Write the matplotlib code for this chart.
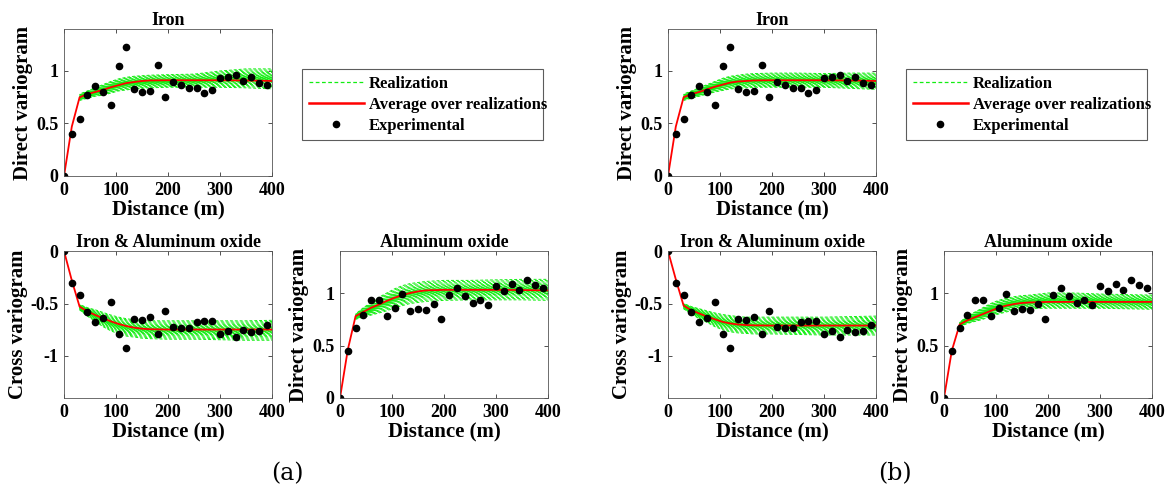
import numpy as np
import matplotlib
matplotlib.use("Agg")
import matplotlib.pyplot as plt
from matplotlib.lines import Line2D

plt.rcParams["font.family"] = ["Liberation Serif", "DejaVu Serif"]
plt.rcParams["font.weight"] = "bold"

W, H = 1170, 492

# experimental lags (m), same in (a) and (b)
exp_d = [0, 15, 30, 45, 60, 75, 90, 105, 120, 135, 150, 165, 180, 195, 210,
         225, 240, 255, 270, 285, 300, 315, 330, 345, 360, 375, 390]
exp_iron = [0, 0.40, 0.54, 0.77, 0.86, 0.80, 0.68, 1.05, 1.23, 0.83, 0.80, 0.81, 1.06, 0.755,
            0.895, 0.865, 0.84, 0.835, 0.79, 0.82, 0.93, 0.94, 0.96, 0.90, 0.945, 0.89, 0.87]
exp_cross = [0, -0.305, -0.415, -0.58, -0.68, -0.64, -0.485, -0.79, -0.925, -0.65, -0.66, -0.63,
             -0.79, -0.57, -0.72, -0.73, -0.735, -0.68, -0.67, -0.67, -0.79, -0.76, -0.82,
             -0.755, -0.77, -0.76, -0.70]
exp_alox = [0, 0.45, 0.67, 0.79, 0.93, 0.93, 0.78, 0.86, 0.99, 0.83, 0.85, 0.84, 0.90, 0.75,
            0.98, 1.05, 0.97, 0.905, 0.935, 0.89, 1.07, 1.015, 1.085, 1.03, 1.12, 1.08, 1.05]

# distances for average / realization curves
line_d = [0, 15, 30, 45, 60, 75, 90, 105, 120, 135, 150, 165, 200, 250, 300, 350, 400]

avg_iron_a = [0, 0.47, 0.75, 0.78, 0.80, 0.82, 0.845, 0.865, 0.885, 0.895, 0.905, 0.91,
              0.912, 0.912, 0.912, 0.91, 0.905]
lo_iron_a = [0, 0.47, 0.72, 0.74, 0.76, 0.77, 0.79, 0.81, 0.82, 0.83, 0.835, 0.84,
             0.845, 0.845, 0.845, 0.84, 0.83]
hi_iron_a = [0, 0.47, 0.78, 0.81, 0.84, 0.87, 0.90, 0.925, 0.94, 0.95, 0.955, 0.96,
             0.965, 0.97, 1.0, 1.02, 1.02]

avg_iron_b = [0, 0.47, 0.75, 0.78, 0.80, 0.825, 0.85, 0.87, 0.89, 0.90, 0.905, 0.91,
              0.912, 0.912, 0.912, 0.91, 0.905]
lo_iron_b = [0, 0.47, 0.72, 0.74, 0.76, 0.78, 0.80, 0.815, 0.83, 0.835, 0.84, 0.845,
             0.845, 0.845, 0.845, 0.835, 0.825]
hi_iron_b = [0, 0.47, 0.78, 0.81, 0.84, 0.87, 0.90, 0.93, 0.95, 0.96, 0.97, 0.975,
             0.98, 0.98, 0.975, 0.98, 0.98]

avg_cross_a = [0, -0.28, -0.53, -0.575, -0.61, -0.64, -0.67, -0.695, -0.715, -0.73, -0.74,
               -0.745, -0.748, -0.748, -0.748, -0.748, -0.748]
lo_cross_a = [0, -0.28, -0.56, -0.62, -0.67, -0.72, -0.76, -0.79, -0.81, -0.82, -0.83,
              -0.835, -0.84, -0.84, -0.845, -0.85, -0.85]
hi_cross_a = [0, -0.28, -0.51, -0.54, -0.56, -0.585, -0.61, -0.63, -0.645, -0.655, -0.66,
              -0.665, -0.665, -0.665, -0.665, -0.665, -0.66]

avg_cross_b = [0, -0.27, -0.52, -0.565, -0.595, -0.625, -0.65, -0.675, -0.69, -0.70, -0.705,
               -0.708, -0.71, -0.71, -0.71, -0.71, -0.71]
lo_cross_b = [0, -0.27, -0.55, -0.60, -0.645, -0.68, -0.72, -0.75, -0.77, -0.78, -0.785,
              -0.79, -0.79, -0.795, -0.80, -0.80, -0.80]
hi_cross_b = [0, -0.27, -0.50, -0.53, -0.55, -0.57, -0.59, -0.605, -0.615, -0.625, -0.63,
              -0.63, -0.63, -0.63, -0.63, -0.625, -0.62]

avg_alox_a = [0, 0.46, 0.78, 0.82, 0.86, 0.89, 0.925, 0.955, 0.98, 1.0, 1.015, 1.025,
              1.03, 1.03, 1.03, 1.028, 1.025]
lo_alox_a = [0, 0.46, 0.75, 0.77, 0.79, 0.81, 0.83, 0.86, 0.88, 0.90, 0.91, 0.92,
             0.93, 0.935, 0.935, 0.935, 0.93]
hi_alox_a = [0, 0.46, 0.80, 0.86, 0.91, 0.96, 1.0, 1.04, 1.07, 1.09, 1.10, 1.11,
             1.12, 1.12, 1.125, 1.13, 1.13]

avg_alox_b = [0, 0.45, 0.70, 0.74, 0.77, 0.80, 0.83, 0.86, 0.88, 0.895, 0.905, 0.91,
              0.915, 0.915, 0.915, 0.915, 0.915]
lo_alox_b = [0, 0.45, 0.68, 0.71, 0.73, 0.75, 0.78, 0.80, 0.82, 0.835, 0.845, 0.85,
             0.855, 0.855, 0.855, 0.85, 0.845]
hi_alox_b = [0, 0.45, 0.72, 0.78, 0.82, 0.86, 0.90, 0.93, 0.95, 0.965, 0.975, 0.98,
             1.0, 1.0, 0.99, 0.985, 0.98]

# position of each realization inside the green band (0 = lower edge, 1 = upper edge)
real_pos = [0.0, 0.06, 0.12, 0.18, 0.23, 0.27, 0.31, 0.34, 0.37, 0.40, 0.42, 0.44, 0.46,
            0.48, 0.50, 0.52, 0.54, 0.56, 0.58, 0.60, 0.63, 0.66, 0.69, 0.73, 0.77, 0.82,
            0.88, 0.94, 1.0]

GREEN = "#11ee11"


def px_axes(x0, y0, x1, y1):
    return fig.add_axes([x0 / W, 1 - y1 / H, (x1 - x0) / W, (y1 - y0) / H])


def panel(ax, title, ylabel, exp_y, avg, lo, hi, ylim, yticks, yticklabels):
    d = np.array(line_d)
    lo = np.array(lo)
    hi = np.array(hi)
    for i, f in enumerate(real_pos):
        r = lo + f * (hi - lo)
        ax.plot(d[2:], r[2:], color=GREEN, ls=(i % 5, (3, 2)), lw=0.7)
    ax.plot(d, avg, color="red", lw=1.3)
    ax.plot(exp_d, exp_y, "o", color="black", ms=4.5)
    ax.set_xlim(0, 400)
    ax.set_ylim(*ylim)
    ax.set_xticks([0, 100, 200, 300, 400])
    ax.set_yticks(yticks)
    ax.set_yticklabels(yticklabels)
    ax.tick_params(direction="in", top=True, right=True, length=3, width=0.6,
                   labelsize=13, pad=4, color="#333333")
    for t in ax.get_xticklabels() + ax.get_yticklabels():
        t.set_fontweight("bold")
    for s in ax.spines.values():
        s.set_linewidth(0.6)
        s.set_color("#555555")
    ax.set_title(title, fontsize=13, fontweight="bold", pad=3)
    ax.set_xlabel("Distance (m)", fontsize=15, fontweight="bold", labelpad=1)
    ax.set_ylabel(ylabel, fontsize=15, fontweight="bold", labelpad=2)


fig = plt.figure(figsize=(W / 100, H / 100), dpi=100)

direct_ticks = ([0, 0.5, 1], ["0", "0.5", "1"])
cross_ticks = ([-1, -0.5, 0], ["-1", "-0.5", "0"])

sets = [
    (0, avg_iron_a, lo_iron_a, hi_iron_a, avg_cross_a, lo_cross_a, hi_cross_a,
     avg_alox_a, lo_alox_a, hi_alox_a, "(a)", 287),
    (604, avg_iron_b, lo_iron_b, hi_iron_b, avg_cross_b, lo_cross_b, hi_cross_b,
     avg_alox_b, lo_alox_b, hi_alox_b, "(b)", 895),
]

for dx, ai, li, hi_, ac, lc, hc, aa, la, ha, tag, tag_x in sets:
    ax1 = px_axes(64 + dx, 29, 272 + dx, 176)
    panel(ax1, "Iron", "Direct variogram", exp_iron, ai, li, hi_, (0, 1.4), *direct_ticks)
    ax2 = px_axes(64 + dx, 251, 272 + dx, 398)
    panel(ax2, "Iron & Aluminum oxide", "Cross variogram", exp_cross, ac, lc, hc,
          (-1.4, 0), *cross_ticks)
    ax3 = px_axes(340 + dx, 251, 548 + dx, 398)
    panel(ax3, "Aluminum oxide", "Direct variogram", exp_alox, aa, la, ha, (0, 1.4),
          *direct_ticks)

    handles = [
        Line2D([], [], color=GREEN, ls=(0, (3, 2)), lw=0.9),
        Line2D([], [], color="red", lw=1.8),
        Line2D([], [], color="black", marker="o", ls="none", ms=4.5),
    ]
    leg = fig.legend(handles, ["Realization", "Average over realizations", "Experimental"],
                     loc="upper left",
                     bbox_to_anchor=((302 + dx) / W, 1 - 69 / H, 241 / W, 0),
                     mode="expand", fontsize=12, frameon=True, fancybox=False,
                     borderaxespad=0, handlelength=3.3, handletextpad=0.3,
                     labelspacing=0.3, borderpad=0.4)
    leg.get_frame().set_edgecolor("#333333")
    leg.get_frame().set_linewidth(0.8)
    for t in leg.get_texts():
        t.set_fontweight("bold")

    fig.text(tag_x / W, 1 - 474 / H, tag, fontsize=17, fontweight="normal",
             family=["DejaVu Serif"], ha="center", va="center")

fig.savefig("out.png", dpi=100)
